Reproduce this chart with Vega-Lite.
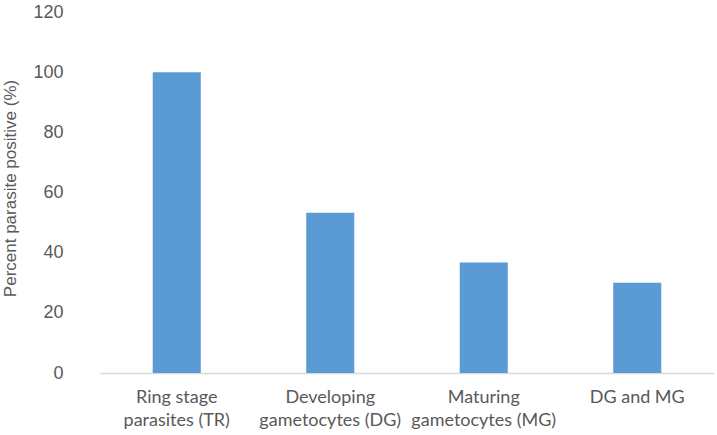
{
  "$schema": "https://vega.github.io/schema/vega-lite/v6.json",
  "autosize": "none",
  "padding": {"left": 100, "top": 12, "right": 3, "bottom": 62},
  "width": 614,
  "height": 361,
  "background": "white",
  "config": {"view": {"stroke": null}},
  "data": {
    "values": [
      {"stage": "Ring stage parasites (TR)", "percent": 100},
      {"stage": "Developing gametocytes (DG)", "percent": 53.3},
      {"stage": "Maturing gametocytes (MG)", "percent": 36.7},
      {"stage": "DG and MG", "percent": 30}
    ]
  },
  "mark": {"type": "bar", "color": "#5B9BD5"},
  "encoding": {
    "x": {
      "field": "stage",
      "type": "nominal",
      "sort": null,
      "scale": {"paddingInner": 0.687, "paddingOuter": 0.3435},
      "axis": {
        "title": null,
        "labelAngle": 0,
        "ticks": false,
        "domainColor": "#d9d9d9",
        "domainWidth": 1.5,
        "labelFont": "Lato",
        "labelFontSize": 18,
        "labelColor": "#595959",
        "labelPadding": 15,
        "labelLineHeight": 23,
        "labelBaseline": "top",
        "labelExpr": "datum.value == 'Ring stage parasites (TR)' ? ['Ring stage', 'parasites (TR)'] : datum.value == 'Developing gametocytes (DG)' ? ['Developing', 'gametocytes (DG)'] : datum.value == 'Maturing gametocytes (MG)' ? ['Maturing', 'gametocytes (MG)'] : datum.value"
      }
    },
    "y": {
      "field": "percent",
      "type": "quantitative",
      "scale": {"domain": [0, 120], "nice": false},
      "axis": {
        "title": "Percent parasite positive (%)",
        "values": [0, 20, 40, 60, 80, 100, 120],
        "grid": false,
        "domain": false,
        "ticks": false,
        "labelFont": "Liberation Sans",
        "labelFontSize": 18,
        "labelColor": "#595959",
        "labelPadding": 37,
        "titleFont": "Liberation Sans",
        "titleFontSize": 17,
        "titleFontWeight": "normal",
        "titleColor": "#595959",
        "titlePadding": 13,
        "titleY": 176
      }
    }
  }
}
